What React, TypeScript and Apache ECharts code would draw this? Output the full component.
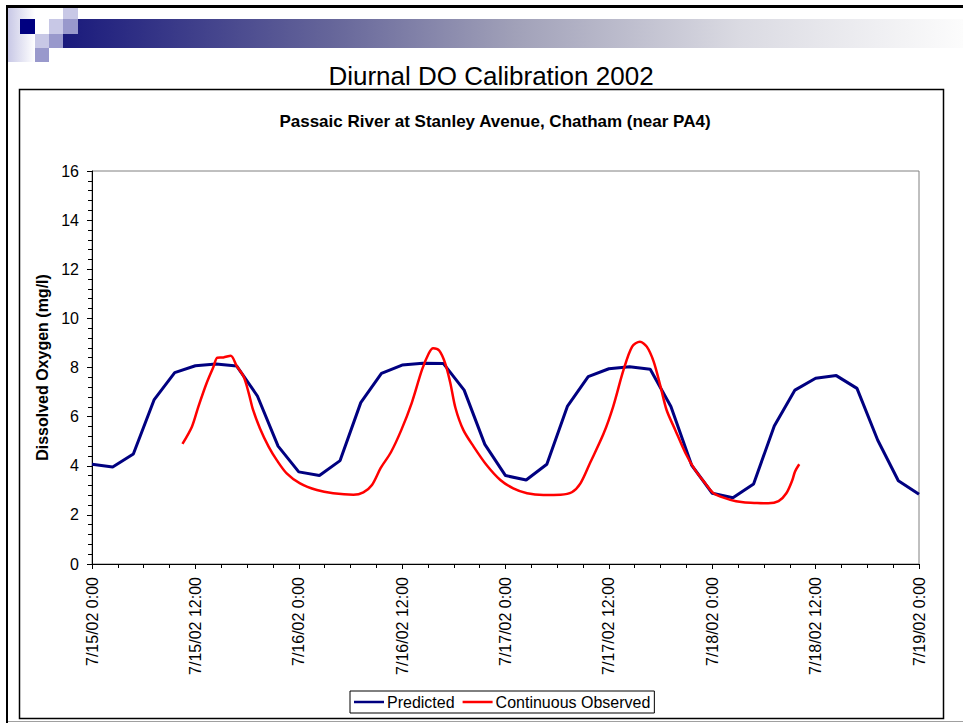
import React, { useEffect, useRef } from "react";
import * as echarts from "echarts";

const xTickLabels = [
  "7/15/02 0:00",
  "7/15/02 12:00",
  "7/16/02 0:00",
  "7/16/02 12:00",
  "7/17/02 0:00",
  "7/17/02 12:00",
  "7/18/02 0:00",
  "7/18/02 12:00",
  "7/19/02 0:00",
];

// hours since 7/15/02 0:00
const predictedHours = [
  0, 2.4, 4.8, 7.2, 9.6, 12, 14.4, 16.8, 19.2, 21.6, 24, 26.4, 28.8, 31.2,
  33.6, 36, 38.4, 40.8, 43.2, 45.6, 48, 50.4, 52.8, 55.2, 57.6, 60, 62.4,
  64.8, 67.2, 69.6, 72, 74.4, 76.8, 79.2, 81.6, 84, 86.4, 88.8, 91.2, 93.6, 96,
];
const predictedValues = [
  4.06, 3.95, 4.48, 6.68, 7.79, 8.07, 8.14, 8.06, 6.84, 4.8, 3.75, 3.6, 4.21,
  6.57, 7.76, 8.1, 8.17, 8.16, 7.08, 4.87, 3.6, 3.42, 4.06, 6.43, 7.63, 7.95,
  8.03, 7.93, 6.41, 4.03, 2.88, 2.7, 3.26, 5.62, 7.08, 7.56, 7.67, 7.15, 5.05,
  3.39, 2.84,
];

const observedHours = [
  10.5, 11.6, 12.35, 13.3, 14.1, 14.55, 15.25, 16.1, 16.8, 17.6, 18.2, 18.7,
  19.5, 20.5, 21.45, 22.6, 24.15, 26.1, 28.0, 30.35, 31.5, 32.5, 33.5, 34.7,
  35.9, 37.1, 38.3, 39.1, 39.6, 40.3, 41.0, 41.6, 42.2, 43.1, 44.3, 45.8, 47.4,
  48.9, 50.5, 52.4, 54.4, 55.7, 56.7, 57.8, 59.4, 60.5, 61.7, 62.7, 63.6, 64.4,
  65.2, 66.0, 66.7, 67.7, 68.9, 70.0, 71.2, 72.2, 74.1, 75.6, 77.2, 78.5, 79.7,
  80.6, 81.3, 81.6, 82.1,
];
const observedValues = [
  4.89, 5.59, 6.41, 7.36, 8.03, 8.4, 8.41, 8.48, 8.06, 7.63, 6.95, 6.27, 5.52,
  4.78, 4.23, 3.69, 3.28, 3.01, 2.88, 2.82, 2.92, 3.22, 3.9, 4.55, 5.45, 6.54,
  7.9, 8.58, 8.78, 8.69, 8.17, 7.36, 6.34, 5.46, 4.78, 4.03, 3.42, 3.08, 2.88,
  2.81, 2.82, 2.92, 3.28, 4.1, 5.32, 6.41, 7.9, 8.85, 9.05, 8.85, 8.24, 7.22,
  6.27, 5.46, 4.51, 3.83, 3.28, 2.87, 2.61, 2.51, 2.48, 2.47, 2.56, 2.88, 3.42,
  3.76, 4.06,
];

const FONT = '"Liberation Sans", Arial, sans-serif';

export default function App() {
  const ref = useRef<HTMLDivElement>(null);
  useEffect(() => {
    if (!ref.current) return;
    const chart = echarts.init(ref.current, null, { renderer: "svg" });
    const logoSquares = [
      { x: 20, y: 19, w: 15, h: 15, c: "#000080" },
      { x: 63, y: 8, w: 15, h: 11, c: "#c8c8e6" },
      { x: 49, y: 19, w: 14, h: 15, c: "#c8c8e6" },
      { x: 63, y: 19, w: 15, h: 15, c: "#9999cc" },
      { x: 35, y: 34, w: 14, h: 14, c: "#c8c8e6" },
      { x: 49, y: 34, w: 14, h: 14, c: "#9999cc" },
      { x: 35, y: 48, w: 14, h: 14, c: "#9999cc" },
    ];
    chart.setOption({
      animation: false,
      backgroundColor: "#fff",
      textStyle: { fontFamily: FONT },
      title: [
        {
          text: "Diurnal DO Calibration 2002",
          left: 486,
          top: 58,
          textAlign: "center",
          textStyle: { fontFamily: FONT, fontSize: 26, fontWeight: "normal", color: "#000" },
        },
        {
          text: "Passaic River at Stanley Avenue, Chatham (near PA4)",
          left: 490,
          top: 108,
          textAlign: "center",
          textStyle: { fontFamily: FONT, fontSize: 17, fontWeight: "bold", color: "#000" },
        },
      ],
      graphic: [
        // slide decorations
        {
          type: "rect",
          shape: { x: 8, y: 8, width: 27, height: 54 },
          style: {
            fill: {
              type: "linear", x: 0, y: 0, x2: 1, y2: 0,
              colorStops: [
                { offset: 0, color: "#c8c8e6" },
                { offset: 1, color: "#ffffff" },
              ],
            },
          },
          z: -1,
        },
        {
          type: "rect",
          shape: { x: 63, y: 19, width: 900, height: 29 },
          style: {
            fill: {
              type: "linear", x: 0, y: 0, x2: 1, y2: 0,
              colorStops: [
                { offset: 0, color: "#1a1a7c" },
                { offset: 0.3, color: "#66669a" },
                { offset: 0.5, color: "#a0a0b8" },
                { offset: 0.75, color: "#dadae2" },
                { offset: 1, color: "#fcfcfc" },
              ],
            },
          },
          z: -1,
        },
        ...logoSquares.map((s) => ({
          type: "rect",
          shape: { x: s.x, y: s.y, width: s.w, height: s.h },
          style: { fill: s.c },
          z: 0,
        })),
        { type: "rect", shape: { x: 6, y: 5, width: 957, height: 3 }, style: { fill: "#000" }, z: 1 },
        { type: "rect", shape: { x: 6, y: 5, width: 2, height: 718 }, style: { fill: "#000" }, z: 1 },
        { type: "rect", shape: { x: 8, y: 721, width: 955, height: 1 }, style: { fill: "#a0a0a0" }, z: 1 },
        {
          type: "rect",
          shape: { x: 19.5, y: 89.5, width: 924, height: 629 },
          style: { fill: "none", stroke: "#000", lineWidth: 1.5 },
          z: 1,
        },
      ],
      legend: {
        data: ["Predicted", "Continuous Observed"],
        left: 350,
        top: 691,
        orient: "horizontal",
        icon: "rect",
        itemWidth: 30,
        itemHeight: 2.5,
        itemGap: 8,
        padding: [3, 4, 3, 4],
        borderColor: "#000",
        borderWidth: 1,
        borderRadius: 0,
        backgroundColor: "#fff",
        textStyle: { fontFamily: FONT, fontSize: 16, color: "#000", padding: [0, 0, 0, -2] },
      },
      grid: {
        left: 92,
        right: 44,
        top: 171,
        bottom: 159,
        show: true,
        borderColor: "#808080",
        borderWidth: 1,
        backgroundColor: "transparent",
      },
      xAxis: {
        type: "value",
        min: 0,
        max: 96,
        interval: 12,
        axisLine: { show: true, onZero: false, lineStyle: { color: "#000", width: 1 } },
        axisTick: { show: true, length: 5, lineStyle: { color: "#000" } },
        minorTick: { show: true, splitNumber: 4, length: 4, lineStyle: { color: "#000" } },
        splitLine: { show: false },
        minorSplitLine: { show: false },
        axisLabel: {
          rotate: 90,
          margin: 13,
          fontFamily: FONT,
          fontSize: 16,
          color: "#000",
          formatter: (v: number) => xTickLabels[Math.round(v / 12)] ?? "",
        },
      },
      yAxis: {
        type: "value",
        min: 0,
        max: 16,
        interval: 2,
        name: "Dissolved Oxygen (mg/l)",
        nameLocation: "middle",
        nameGap: 39,
        nameTextStyle: { fontFamily: FONT, fontSize: 16, fontWeight: "bold", color: "#000" },
        axisLine: { show: true, lineStyle: { color: "#000", width: 1 } },
        axisTick: { show: true, length: 5, lineStyle: { color: "#000" } },
        minorTick: { show: true, splitNumber: 5, length: 4, lineStyle: { color: "#000" } },
        splitLine: { show: false },
        minorSplitLine: { show: false },
        axisLabel: { margin: 13, fontFamily: FONT, fontSize: 16, color: "#000" },
      },
      series: [
        {
          name: "Predicted",
          type: "line",
          data: predictedHours.map((h, i) => [h, predictedValues[i]]),
          symbol: "none",
          color: "#000080",
          lineStyle: { color: "#000080", width: 3 },
          z: 3,
        },
        {
          name: "Continuous Observed",
          type: "line",
          data: observedHours.map((h, i) => [h, observedValues[i]]),
          symbol: "none",
          smooth: 0.3,
          color: "#ff0000",
          lineStyle: { color: "#ff0000", width: 2.5 },
          z: 4,
        },
      ],
    });
    return () => chart.dispose();
  }, []);
  return (
    <div
      ref={ref}
      style={{ position: "absolute", left: 0, top: 0, width: 963, height: 723 }}
    />
  );
}
